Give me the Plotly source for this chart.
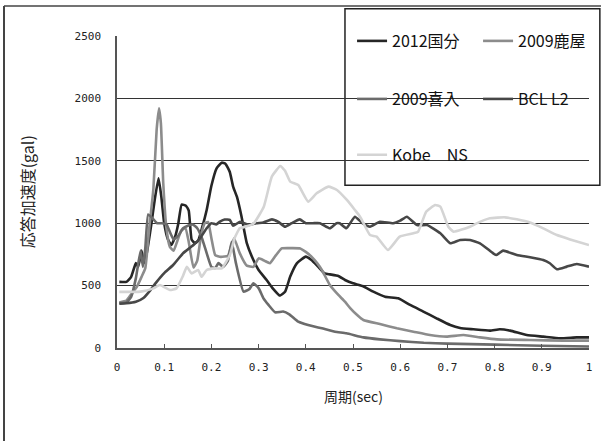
import plotly.graph_objects as go

# ---------------- data ----------------
kokubu_x = [0.005,0.02,0.03,0.04,0.045,0.052,0.057,0.063,0.073,0.08,0.088,0.094,0.1,0.108,0.115,0.123,0.13,0.137,0.146,0.152,0.158,0.165,0.172,0.18,0.19,0.2,0.211,0.222,0.23,0.239,0.246,0.254,0.264,0.275,0.289,0.3,0.317,0.33,0.345,0.356,0.367,0.381,0.4,0.412,0.426,0.44,0.451,0.469,0.483,0.5,0.52,0.543,0.568,0.596,0.621,0.649,0.677,0.706,0.727,0.755,0.79,0.811,0.833,0.868,0.903,0.939,0.974,1.0]
kokubu_y = [530,530,570,680,650,780,680,760,1000,1190,1360,1210,1000,870,825,890,1000,1150,1140,1100,870,840,860,960,1106,1300,1440,1485,1475,1410,1293,1212,1050,840,705,625,545,478,420,450,572,678,732,705,652,598,590,577,545,518,497,452,411,398,345,292,238,184,160,150,139,150,139,104,91,77,85,85]

kanoya_x = [0.005,0.02,0.03,0.042,0.052,0.06,0.068,0.077,0.084,0.089,0.093,0.098,0.105,0.112,0.12,0.128,0.136,0.145,0.152,0.162,0.17,0.178,0.186,0.193,0.2,0.208,0.22,0.235,0.248,0.26,0.275,0.289,0.3,0.312,0.324,0.336,0.349,0.37,0.388,0.4,0.412,0.424,0.434,0.451,0.469,0.483,0.494,0.51,0.522,0.557,0.593,0.628,0.663,0.698,0.734,0.769,0.805,0.875,0.946,1.0]
kanoya_y = [365,380,430,490,570,640,950,1270,1750,1920,1800,1320,950,810,780,860,940,960,850,645,700,900,1000,1010,880,745,730,740,880,760,660,650,718,700,680,740,798,800,798,770,732,680,625,505,425,371,320,260,224,192,158,131,104,91,104,85,69,64,59,59]

kiire_x = [0.005,0.02,0.03,0.04,0.05,0.055,0.06,0.066,0.075,0.085,0.095,0.105,0.112,0.12,0.13,0.14,0.15,0.16,0.17,0.18,0.19,0.2,0.208,0.215,0.225,0.235,0.243,0.252,0.268,0.28,0.289,0.3,0.31,0.321,0.335,0.352,0.365,0.384,0.405,0.434,0.462,0.486,0.522,0.557,0.6,0.65,0.7,0.8,0.9,1.0]
kiire_y = [360,365,410,560,780,650,800,1070,1040,1000,1000,990,930,870,900,960,980,990,960,880,760,650,640,680,650,700,850,680,452,470,518,480,400,345,286,292,270,211,184,158,131,118,85,69,55,42,35,27,18,12]

bcl_x = [0.005,0.02,0.04,0.056,0.07,0.084,0.1,0.119,0.14,0.162,0.176,0.19,0.2,0.21,0.218,0.228,0.239,0.246,0.261,0.279,0.295,0.31,0.328,0.342,0.356,0.37,0.387,0.4,0.415,0.43,0.451,0.465,0.472,0.486,0.504,0.52,0.536,0.557,0.585,0.6,0.614,0.636,0.657,0.685,0.706,0.727,0.748,0.769,0.797,0.804,0.818,0.847,0.875,0.903,0.917,0.932,0.953,0.974,1.0]
bcl_y = [355,358,370,400,460,530,600,665,759,825,879,959,1000,990,1012,1030,1026,980,1012,985,1000,1005,1031,1010,972,1000,1031,1000,1000,1000,959,1000,999,959,1052,1000,972,1012,999,1020,1052,985,985,919,839,866,866,839,759,745,780,745,727,705,679,631,652,673,652]

kobe_x = [0.005,0.03,0.05,0.077,0.091,0.112,0.126,0.14,0.148,0.158,0.172,0.179,0.19,0.208,0.222,0.239,0.249,0.26,0.275,0.29,0.311,0.328,0.346,0.356,0.367,0.384,0.405,0.423,0.448,0.466,0.487,0.504,0.515,0.536,0.55,0.574,0.599,0.628,0.638,0.655,0.674,0.685,0.702,0.713,0.748,0.762,0.79,0.822,0.847,0.875,0.903,0.932,0.96,1.0]
kobe_y = [450,450,452,478,505,465,478,580,651,598,625,571,625,638,638,745,879,959,975,1000,1132,1373,1458,1420,1333,1306,1173,1240,1293,1266,1186,1106,1052,905,892,785,892,919,932,1092,1146,1133,972,932,972,999,1039,1047,1031,1005,959,905,870,825]

series_names = ["2012国分", "2009鹿屋", "2009喜入", "BCL L2", "Kobe\u3000NS"]
x_tick_vals = [0, 0.1, 0.2, 0.3, 0.4, 0.5, 0.6, 0.7, 0.8, 0.9, 1]
x_tick_text = ["0", "0.1", "0.2", "0.3", "0.4", "0.5", "0.6", "0.7", "0.8", "0.9", "1"]
y_tick_vals = [0, 500, 1000, 1500, 2000, 2500]
y_tick_text = ["0", "500", "1000", "1500", "2000", "2500"]

# ---------------- figure ----------------
colors = ["#262626", "#8c8c8c", "#6b6b6b", "#474747", "#d4d4d4"]
legends = ["legend", "legend", "legend2", "legend2", "legend3"]
xs = [kokubu_x, kanoya_x, kiire_x, bcl_x, kobe_x]
ys = [kokubu_y, kanoya_y, kiire_y, bcl_y, kobe_y]

fig = go.Figure()
for name, x, y, c, lg in zip(series_names, xs, ys, colors, legends):
    fig.add_trace(go.Scatter(x=x, y=y, mode="lines", name=name,
                             line=dict(color=c, width=2.6, shape="spline", smoothing=0.4),
                             legend=lg))

CJK = "Noto Sans CJK JP"
MONO = "DejaVu Sans Mono"
leg_common = dict(orientation="h", xanchor="left", yanchor="middle",
                  bgcolor="rgba(0,0,0,0)", borderwidth=0,
                  font=dict(family=CJK, size=16, color="#111"),
                  entrywidth=81, entrywidthmode="pixels", itemclick=False)

fig.update_layout(
    width=601, height=441,
    paper_bgcolor="white", plot_bgcolor="white",
    margin=dict(l=117, r=12, t=36, b=93, autoexpand=False),
    showlegend=True,
    legend=dict(x=0.498, y=0.984, **leg_common),
    legend2=dict(x=0.498, y=0.798, **leg_common),
    legend3=dict(x=0.498, y=0.619, **leg_common),
    xaxis=dict(range=[0, 1], tickvals=x_tick_vals, ticktext=x_tick_text,
               showgrid=False, zeroline=False, showline=True,
               linecolor="#555", linewidth=1.5,
               ticks="inside", ticklen=4, tickcolor="#555", tickwidth=1,
               tickfont=dict(family=MONO, size=11, color="#222"),
               ticklabelstandoff=8),
    yaxis=dict(range=[0, 2500], tickvals=y_tick_vals, ticktext=y_tick_text,
               showgrid=True, gridcolor="#333", gridwidth=1,
               zeroline=False, showline=True, linecolor="#555", linewidth=1.5,
               ticks="", tickfont=dict(family=MONO, size=11, color="#222"),
               ticklabelstandoff=12),
    shapes=[
        dict(type="rect", xref="paper", yref="paper",
             x0=0.483, x1=1.023, y0=0.522, y1=1.087,
             line=dict(color="#222", width=1.5), fillcolor="white", layer="between"),
        dict(type="line", xref="paper", yref="paper",
             x0=-0.2394, x1=-0.2394, y0=-0.35, y1=1.0962,
             line=dict(color="#444", width=2), layer="between"),
        dict(type="line", xref="paper", yref="paper",
             x0=-0.2394, x1=1.1, y0=1.0962, y1=1.0962,
             line=dict(color="#444", width=1.5), layer="between"),
    ],
    annotations=[
        dict(text="周期(sec)", xref="paper", yref="paper", x=0.5, y=-0.153,
             xanchor="center", yanchor="middle", showarrow=False,
             font=dict(family=CJK, size=14, color="#222")),
        dict(text="応答加速度(gal)", xref="paper", yref="paper", x=-0.19, y=0.5,
             xanchor="center", yanchor="middle", showarrow=False, textangle=-90,
             font=dict(family=CJK, size=16, color="#222")),
    ],
)

fig.write_html("out.html", config={"displayModeBar": False},
               post_script="document.body.style.margin='0';document.body.style.padding='0';")
